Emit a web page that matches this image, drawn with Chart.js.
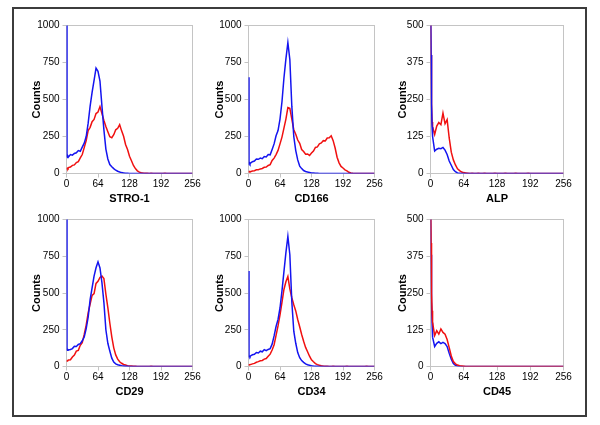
<!DOCTYPE html>
<html><head><meta charset="utf-8">
<script src="https://cdn.jsdelivr.net/npm/chart.js@4"></script>
<style>
html,body{margin:0;padding:0;background:#fff;width:600px;height:425px;overflow:hidden;}
#frame{position:absolute;left:12px;top:7px;width:571px;height:406px;border:2px solid #3c3c3c;}
canvas{position:absolute;}
</style></head><body>
<div id="frame"></div>
<script>
// channel positions (x categories): 0,1,2,3 then every 4th channel to 256
const channels = [0, 1, 2, 3];
for (let c = 4; c <= 256; c += 4) channels.push(c);

const xTickValues = [0, 64, 128, 192, 256];
const yTicks1000 = [0, 250, 500, 750, 1000];
const yTicks500 = [0, 125, 250, 375, 500];
const panelTitles = ['STRO-1', 'CD166', 'ALP', 'CD29', 'CD34', 'CD45'];

// values at channels 0,1,2,3 | 4..16 | 20..32 | ... | 244..256
const stro1Blue = [1100,115,108,118, 112,128,124,135, 140,155,150,178, 205,250,340,455, 548,630,712,690,
  625,455,295,165, 98,60,46,33, 22,15,10,6, 4,2,1,0, 0,0,0,0, 0,0,0,0, 0,0,0,0, 0,0,0,0, 0,0,0,0, 0,0,0,0, 0,0,0,0, 0,0,0,0];
const stro1Red = [35,34,36,33, 40,44,55,58, 74,80,105,128, 175,222,290,312, 350,365,405,415,
  452,405,358,318, 282,248,242,262, 295,305,330,288, 252,196,162,116, 86,54,33,18, 9,5,3,2, 1,0,1,0, 0,0,0,0, 0,1,0,0, 0,0,0,0, 0,0,0,0, 0,0,0,0];

const cd166Blue = [650,68,72,65, 70,80,84,98, 96,104,100,115, 112,128,126,162, 200,255,290,368,
  485,645,775,885, 770,455,250,155, 92,50,33,20, 14,10,7,4, 3,2,1,0, 0,0,0,0, 0,0,0,0, 0,0,0,0, 0,0,0,0, 0,0,0,0, 0,0,0,0, 0,0,0,0];
const cd166Red = [10,12,10,13, 12,17,19,25, 26,31,34,42, 44,54,60,88, 104,128,156,200,
  246,306,368,445, 440,368,296,265, 226,204,162,148, 130,132,122,138, 152,176,180,200, 206,222,220,240, 242,255,222,172, 110,72,48,37, 25,18,8,3, 1,0,0,0, 0,0,0,0, 0,0,0,0];

const alpBlue = [600,400,236,157, 125,76,82,85, 84,88,79,64, 42,28,13,6, 2,1,0,0,
  0,0,0,0, 0,0,0,0, 0,0,0,0, 0,0,0,0, 0,0,0,0, 0,0,0,0, 0,0,0,0, 0,0,0,0, 0,0,0,0, 0,0,0,0, 0,0,0,0, 0,0,0,0];
const alpRed = [600,400,236,174, 158,132,160,172, 165,204,168,182, 120,72,46,29, 16,10,5,3,
  2,1,0,1, 0,0,1,0, 0,1,0,0, 0,0,1,0, 0,0,0,1, 0,0,0,0, 1,0,0,0, 0,0,1,0, 0,0,0,0, 0,0,0,0, 0,0,0,0, 0,0,0,0];

const cd29Blue = [1100,113,110,115, 112,116,122,138, 136,150,156,175, 200,258,335,455, 535,615,672,712,
  670,570,435,250, 158,105,57,30, 18,12,9,6, 4,2,1,0, 0,0,0,0, 0,0,0,0, 0,0,0,0, 0,0,0,0, 0,0,0,0, 0,0,0,0, 0,0,0,0, 0,0,0,0];
const cd29Red = [35,38,40,42, 44,46,65,78, 105,110,144,162, 218,282,365,425, 484,496,565,580,
  606,615,598,492, 400,296,202,127, 79,50,32,22, 14,10,6,4, 3,2,1,0, 0,0,0,0, 0,0,1,0, 0,0,0,0, 0,0,0,0, 0,0,0,0, 0,0,0,0, 0,0,0,0];

const cd34Blue = [650,68,70,66, 72,80,83,95, 92,104,100,115, 108,116,122,152, 208,272,320,398,
  515,645,775,885, 760,440,240,158, 95,60,40,28, 18,12,8,5, 3,2,1,0, 0,0,0,0, 0,0,0,0, 0,0,0,0, 0,0,0,0, 0,0,0,0, 0,0,0,0, 0,0,0,0];
const cd34Red = [10,11,12,12, 13,18,21,29, 33,39,41,50, 54,70,84,112, 148,212,276,352,
  436,524,576,612, 528,468,420,378, 320,270,218,172, 130,100,70,45, 32,20,13,8, 5,3,2,1, 0,0,1,0, 0,0,0,0, 0,1,0,0, 0,0,0,0, 0,0,0,1, 0,0,0,0];

const cd45Red = [600,420,250,190, 150,105,122,110, 128,116,110,92, 64,36,17,9, 5,3,2,1,
  0,0,0,0, 0,0,0,0, 0,0,0,0, 0,0,0,0, 0,0,0,0, 0,0,0,0, 0,0,0,0, 0,0,0,0, 0,0,0,0, 0,0,0,0, 0,0,0,0, 0,0,0,0];
const cd45Blue = [600,380,220,150, 100,68,79,84, 78,82,78,68, 45,25,10,4, 2,1,0,0,
  0,0,0,0, 0,0,0,0, 0,0,0,0, 0,0,0,0, 0,0,0,0, 0,0,0,0, 0,0,0,0, 0,0,0,0, 0,0,0,0, 0,0,0,0, 0,0,0,0, 0,0,0,0];

const FAMILY = '"Liberation Sans", Arial, sans-serif';
const BLUE = '#1414f0';
const RED = '#f01010';
const AXIS = '#c4c4c4';

// layout of each panel (plot rectangle in page pixels)
const layouts = [
  {L: 66.5,  R: 192.5, T: 25.5,  B: 173.5, titleX: 36.7,  xTitleY: 199},
  {L: 248.5, R: 374.5, T: 25.5,  B: 173.5, titleX: 219.5, xTitleY: 199},
  {L: 430.5, R: 563.5, T: 25.5,  B: 173.5, titleX: 402.5, xTitleY: 199},
  {L: 66.5,  R: 192.5, T: 219.5, B: 366.5, titleX: 36.7,  xTitleY: 392},
  {L: 248.5, R: 374.5, T: 219.5, B: 366.5, titleX: 219.5, xTitleY: 392},
  {L: 430.5, R: 563.5, T: 219.5, B: 366.5, titleX: 402.5, xTitleY: 392}
];
const series = [
  {blue: stro1Blue, red: stro1Red, yTicks: yTicks1000, redOnTop: false},
  {blue: cd166Blue, red: cd166Red, yTicks: yTicks1000, redOnTop: false},
  {blue: alpBlue,   red: alpRed,   yTicks: yTicks500,  redOnTop: false},
  {blue: cd29Blue,  red: cd29Red,  yTicks: yTicks1000, redOnTop: false},
  {blue: cd34Blue,  red: cd34Red,  yTicks: yTicks1000, redOnTop: false},
  {blue: cd45Blue,  red: cd45Red,  yTicks: yTicks500,  redOnTop: true}
];

const areaBorder = {
  id: 'areaBorder',
  beforeDatasetsDraw(chart) {
    const {ctx, chartArea: a} = chart;
    ctx.save();
    ctx.strokeStyle = AXIS;
    ctx.lineWidth = 1;
    ctx.strokeRect(a.left, a.top, a.right - a.left, a.bottom - a.top);
    ctx.restore();
  }
};

layouts.forEach((g, i) => {
  const s = series[i];
  const xH = 34;
  const cl = Math.floor(g.L - 52), ct = Math.floor(g.T - 12);
  const cw = Math.ceil(g.R + 14) - cl, chh = Math.ceil(g.B + xH + 2) - ct;
  const yW = g.L - cl;
  const padTop = g.T - ct;
  const padRight = cw - (g.R - cl);
  const padBottom = chh - xH - (g.B - ct);
  const titleLH = 11 * 1.2;
  const yTitlePad = (g.titleX - cl) - titleLH / 2;
  const xTitlePad = (g.B + xH - g.xTitleY) - titleLH / 2;

  const cv = document.createElement('canvas');
  cv.width = cw; cv.height = chh;
  cv.style.left = cl + 'px'; cv.style.top = ct + 'px';
  cv.style.width = cw + 'px'; cv.style.height = chh + 'px';
  document.body.appendChild(cv);

  const mk = (vals, color, order) => ({
    data: channels.map((c, k) => ({x: c, y: vals[k]})),
    borderColor: color, borderWidth: 1.5, pointRadius: 0, tension: 0, fill: false, order
  });
  const blueDs = mk(s.blue, BLUE, s.redOnTop ? 1 : 0);
  const redDs = mk(s.red, RED, s.redOnTop ? 0 : 1);
  const yMax = s.yTicks[s.yTicks.length - 1];

  new Chart(cv, {
    type: 'line',
    data: {datasets: [blueDs, redDs]},
    plugins: [areaBorder],
    options: {
      responsive: false, animation: false, devicePixelRatio: 1,
      layout: {padding: {left: 0, top: padTop, right: padRight, bottom: padBottom}},
      plugins: {legend: {display: false}, tooltip: {enabled: false}},
      scales: {
        x: {
          type: 'linear', min: 0, max: 256,
          afterBuildTicks: sc => { sc.ticks = xTickValues.map(v => ({value: v})); },
          afterFit: sc => { sc.height = xH; },
          ticks: {color: '#000', font: {size: 10, family: FAMILY}, padding: 1, maxRotation: 0, autoSkip: false,
                  callback: v => String(v)},
          grid: {display: true, drawOnChartArea: false, drawTicks: true, tickLength: 4, color: AXIS},
          border: {display: true, color: AXIS},
          title: {display: true, text: panelTitles[i], color: '#000',
                  font: {size: 11, weight: 'bold', family: FAMILY, lineHeight: 1.2},
                  padding: {top: 0, bottom: xTitlePad}}
        },
        y: {
          type: 'linear', min: 0, max: yMax,
          afterBuildTicks: sc => { sc.ticks = s.yTicks.map(v => ({value: v})); },
          afterFit: sc => { sc.width = yW; },
          ticks: {color: '#000', font: {size: 10, family: FAMILY}, padding: 3, autoSkip: false,
                  callback: v => String(v)},
          grid: {display: true, drawOnChartArea: false, drawTicks: true, tickLength: 4, color: AXIS},
          border: {display: true, color: AXIS},
          title: {display: true, text: 'Counts', color: '#000',
                  font: {size: 11, weight: 'bold', family: FAMILY, lineHeight: 1.2},
                  padding: {top: yTitlePad, bottom: 0}}
        }
      }
    }
  });
});
</script>
</body></html>
